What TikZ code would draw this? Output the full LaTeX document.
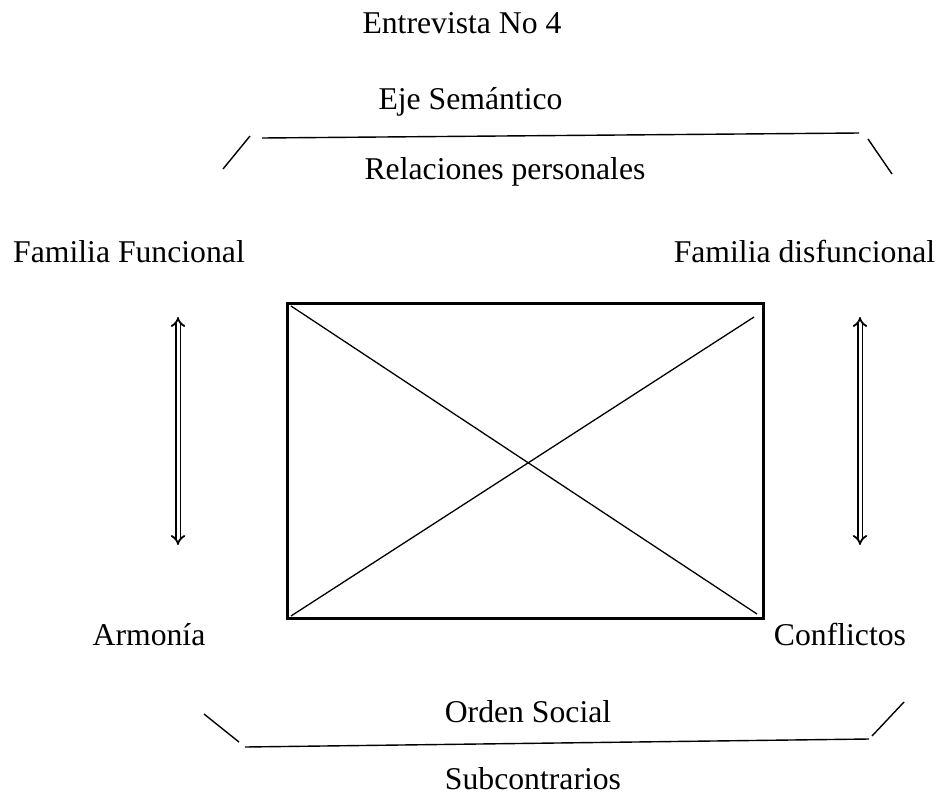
\documentclass[tikz,border=0pt]{standalone}
\usepackage{fontspec}
\setmainfont{Liberation Serif}
\usetikzlibrary{arrows.meta,positioning,calc}

\begin{document}
\begin{tikzpicture}[x=1pt, y=-1pt, font=\fontsize{31.7}{38}\selectfont,
    txt/.style={anchor=base, inner sep=0pt},
    bar/.style={line width=1.4pt},
    updown/.style={double, double distance=3pt, line width=1.8pt, {Implies}-{Implies}}]

    \useasboundingbox (0,0) rectangle (938,801);

    % titles
    \node[txt] (title) at (462,33) {Entrevista No 4};
    \node[txt] (eje) at (470.5,109) {Eje Semántico};
    \node[txt] (rel) at (505,179) {Relaciones personales};

    % corners of the square
    \node[txt] (funcional) at (129,262) {Familia Funcional};
    \node[txt] (disfuncional) at (804.5,262) {Familia disfuncional};
    \node[txt] (armonia) at (149,645) {Armonía};
    \node[txt] (conflictos) at (840,645) {Conflictos};

    \node[txt] (orden) at (528,722) {Orden Social};
    \node[txt] (sub) at (533,789) {Subcontrarios};

    % the box and its diagonals
    \node[draw, line width=3pt, minimum width=476pt, minimum height=315pt,
      inner sep=0pt] (box) at (525.5,461) {};
    \draw[line width=1.3pt] ($(box.north west)+(5,4)$) -- ($(box.south east)+(-8,-6)$);
    \draw[line width=1.3pt] ($(box.south west)+(5,-4)$) -- ($(box.north east)+(-11,15)$);

    % upper bracket
    \coordinate (ta) at (223,169);
    \coordinate (tb) at (250,136);
    \coordinate (tc) at (262,138);
    \coordinate (td) at (859,133);
    \coordinate (te) at (868,139);
    \coordinate (tf) at (892,174);
    \draw[bar] (ta) -- (tb);
    \draw[bar] (tc) -- (td);
    \draw[bar] (te) -- (tf);

    % lower bracket
    \coordinate (ba) at (204,714);
    \coordinate (bb) at (239,742);
    \coordinate (bc) at (245,747);
    \coordinate (bd) at (869,739);
    \coordinate (be) at (872,736);
    \coordinate (bf) at (904,702);
    \draw[bar] (ba) -- (bb);
    \draw[bar] (bc) -- (bd);
    \draw[bar] (be) -- (bf);

    % double arrows
    \coordinate (lup) at (178,317);
    \coordinate (ldown) at (178,545);
    \coordinate (rup) at (860,317);
    \coordinate (rdown) at (860,545);
    \draw[updown] (lup) -- (ldown);
    \draw[updown] (rup) -- (rdown);

\end{tikzpicture}
\end{document}
